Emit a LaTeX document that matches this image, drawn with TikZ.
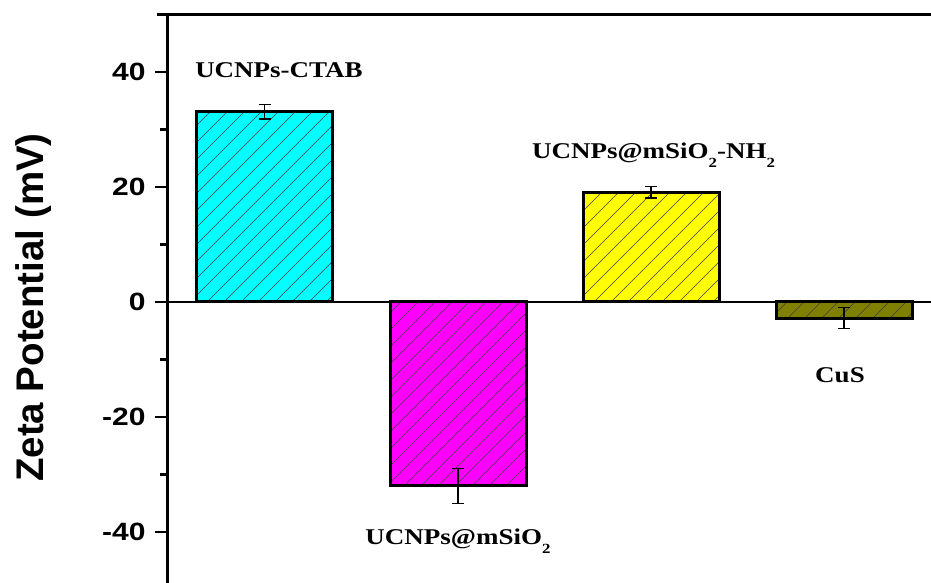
\documentclass[tikz,border=0pt]{standalone}
\usepackage{fontspec}
\setmainfont{Liberation Serif}
\setsansfont{Liberation Sans}
\definecolor{cyanbar}{RGB}{0,255,255}
\definecolor{magbar}{RGB}{255,0,255}
\definecolor{yelbar}{RGB}{255,255,0}
\definecolor{olivebar}{RGB}{128,128,0}
\def\zbar#1#2#3{
\begin{scope}
    \clip (#1,0) rectangle (#1+136,#2);
    \fill[#3] (#1,0) rectangle (#1+136,#2);
    \foreach \k in {-527,-510,...,40}
        \draw[hatch] (#1,0) ++(\k pt,-300pt) -- ++(600pt,600pt);
\end{scope}
\draw[barframe] (#1,0) rectangle (#1+136,#2);
}
\def\errbar#1#2#3{
    \draw[err] (#1,#2) -- (#1,#3);
    \draw[err] (#1-6,#2) -- (#1+6,#2);
    \draw[err] (#1-6,#3) -- (#1+6,#3);
}
\def\subtxt#1{\raisebox{-9pt}{\fontsize{14}{14}\selectfont #1}}

\begin{document}
\begin{tikzpicture}[x=1pt, y=5.75pt,
    hatch/.style={line width=.6pt, black!75},
    barframe/.style={line width=3pt, line join=miter},
    err/.style={line width=1.3pt},
    axisline/.style={line width=3pt},
    ticklbl/.style={anchor=east, inner sep=0pt, xscale=1.2,
        font=\sffamily\bfseries\fontsize{25}{30}\selectfont},
    barlbl/.style={anchor=base, inner sep=0pt, xscale=1.2,
        font=\bfseries\fontsize{22.5}{27}\selectfont}]
    \useasboundingbox (0,-48.87) rectangle (931,52.52);
    % bars
    \zbar{196}{33.05}{cyanbar};
    \zbar{390}{-31.95}{magbar};
    \zbar{583}{19.1}{yelbar};
    \zbar{776}{-2.9}{olivebar};
    \errbar{264.5}{31.8}{34.3};
    \errbar{458}{-29}{-35};
    \errbar{651}{18.1}{20.1};
    \errbar{844}{-1}{-4.6};
    % axes
    \draw[axisline] (157,50) -- (931,50);
    \draw[axisline] (167,50) -- (167,-49.5);
    \draw[line width=2.5pt] (155,0) -- (931,0);
    \foreach \v in {-40,-20,0,20,40}
        \draw[line width=2.5pt] (155,\v) -- (167,\v) node[ticklbl] (t\v) at (147,\v) {\v};
    \foreach \v in {-30,-10,10,30}
        \draw[line width=2.5pt] (160,\v) -- (167,\v);
    \node[rotate=90, anchor=base, inner sep=0pt,
        font=\sffamily\bfseries\fontsize{38.5}{40}\selectfont] (ylbl) at (43.3,-0.96) {Zeta Potential (mV)};
    % labels
    \node[barlbl] (ctab) at (279,39.1) {UCNPs-CTAB};
    \node[barlbl] (nh2) at (653.5,24.87) {UCNPs@mSiO\subtxt{2}-NH\subtxt{2}};
    \node[barlbl] (cus) at (840,-14.03) {CuS};
    \node[barlbl] (msio) at (458,-42.26) {UCNPs@mSiO\subtxt{2}};
\end{tikzpicture}
\end{document}
